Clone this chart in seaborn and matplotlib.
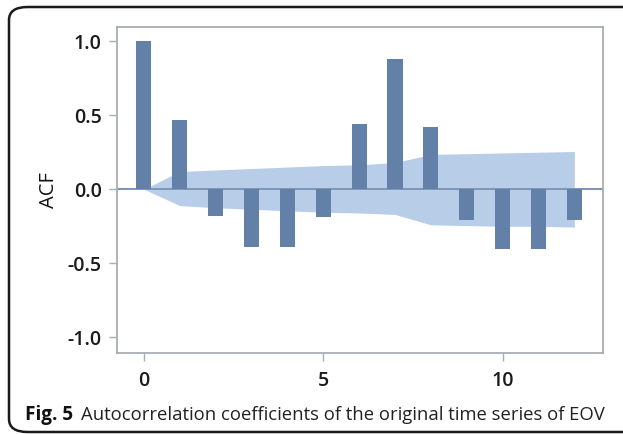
import matplotlib
matplotlib.use("Agg")
import matplotlib.pyplot as plt
from matplotlib.patches import FancyBboxPatch
import seaborn as sns
import pandas as pd

lags = [0, 1, 2, 3, 4, 5, 6, 7, 8, 9, 10, 11, 12]
acf_values = [1.0, 0.47, -0.18, -0.39, -0.39, -0.19, 0.44, 0.88, 0.42, -0.21, -0.40, -0.40, -0.21]
band_upper = [0.0, 0.12, 0.13, 0.14, 0.15, 0.16, 0.165, 0.18, 0.235, 0.24, 0.245, 0.25, 0.255]
band_lower = [0.0, -0.11, -0.125, -0.135, -0.145, -0.155, -0.16, -0.17, -0.24, -0.245, -0.25, -0.25, -0.255]
y_ticks = [-1.0, -0.5, 0.0, 0.5, 1.0]
x_ticks = [0, 5, 10]
caption_bold = "Fig. 5"
caption_text = "Autocorrelation coefficients of the original time series of EOV"

sns.set_style("white")
plt.rcParams["font.family"] = ["Open Sans", "DejaVu Sans"]

df = pd.DataFrame({"lag": lags, "acf": acf_values})

fig = plt.figure(figsize=(6.23, 4.34), dpi=100)
ax = fig.add_axes([0.1878, 0.1866, 0.7802, 0.7512])

bar_color = "#6380A8"
band_color = "#B8CEE8"

ax.fill_between(lags, band_lower, band_upper, color=band_color, linewidth=0, zorder=0.5)
ax.axhline(0, color="#7E95B6", lw=1.4, zorder=1.5)
sns.barplot(data=df, x="lag", y="acf", native_scale=True, width=0.42,
            color=bar_color, saturation=1, ax=ax, zorder=2)
for p in ax.patches:
    p.set_zorder(2)
    p.set_edgecolor("none")

ax.set_xlim(-0.75, 12.8)
ax.set_ylim(-1.105, 1.095)
ax.set_xticks(x_ticks)
ax.set_xticklabels([str(t) for t in x_ticks])
ax.set_yticks(y_ticks)
ax.set_yticklabels([f"{t:.1f}" for t in y_ticks])
ax.set_xlabel("")
ax.set_ylabel("ACF", fontsize=14.5, labelpad=6, color="#111111")

for s in ax.spines.values():
    s.set_visible(True)
    s.set_color("#A9AEB3")
    s.set_linewidth(1.3)

ax.tick_params(axis="both", which="major", direction="out", length=6, width=1.0,
               color="#A9AEB3", labelsize=14, labelcolor="#1a1a1a",
               bottom=True, left=True, top=False, right=False)
ax.tick_params(axis="x", pad=7)
ax.tick_params(axis="y", pad=5)
for lbl in ax.get_xticklabels() + ax.get_yticklabels():
    lbl.set_fontweight("semibold")

# caption
t1 = fig.text(25 / 623, 1 - 420 / 434, caption_bold, fontsize=13.6, fontweight="bold",
              color="#111111", ha="left", va="baseline")
fig.canvas.draw()
bb = t1.get_window_extent()
x2 = (bb.x1 + 8) / fig.bbox.width
fig.text(x2, 1 - 420 / 434, caption_text, fontsize=13.3, color="#222222",
         ha="left", va="baseline")

# frame
frame = FancyBboxPatch((9 / 623, 2 / 434), 660 / 623, 425 / 434,
                       boxstyle="round,pad=0,rounding_size=0.03",
                       transform=fig.transFigure, fill=False,
                       edgecolor="#1a1a1a", linewidth=1.8, clip_on=False)
fig.patches.append(frame)

fig.savefig("out.png", dpi=100)
